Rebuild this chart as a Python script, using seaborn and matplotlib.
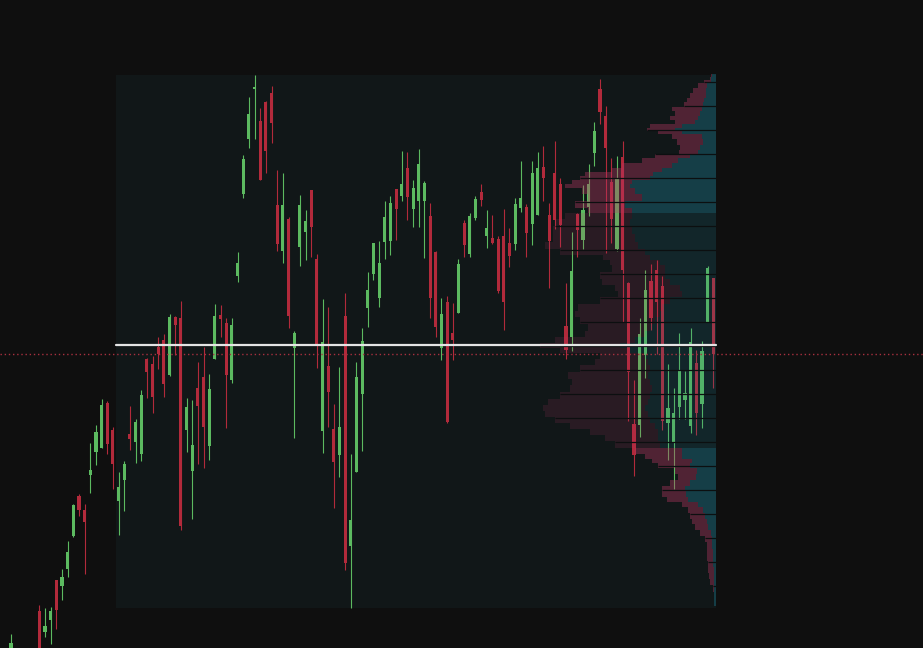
import numpy as np
import pandas as pd
import matplotlib
matplotlib.use("Agg")
import matplotlib.pyplot as plt
from matplotlib.patches import Rectangle
from matplotlib.lines import Line2D
from matplotlib.colors import to_rgba
import seaborn as sns

# ---------------- data ----------------
first_index = -5          # index of the first candle
profile_start = 14        # first candle included in the volume-profile range

opens = [-4, -8, -22, -30, -18,
         37, 16, 28, 68, 62, 79, 112, 152, 138, 173,
         196, 200, 245, 218, 147, 168, 214, 206, 194, 289,
         284, 301, 308, 273, 331, 330, 218, 177, 260, 271,
         202, 289, 333, 325, 268, 372, 454, 509, 559, 527,
         546, 555, 443, 397, 429, 300, 401, 416, 458, 389,
         217, 282, 219, 193, 332, 102, 176, 254, 340, 374,
         350, 406, 407, 459, 452, 480, 439, 447, 447, 432,
         396, 300, 346, 315, 335, 425, 394, 430, 456, 412,
         410, 409, 412, 405, 404, 440, 441, 424, 433, 481,
         433, 475, 464, 322, 311, 434, 408, 441, 495, 559,
         532, 466, 399, 491, 365, 224, 223, 293, 367, 378,
         362, 225, 206, 241, 248, 222, 285, 244, 326, 370]
highs = [14, -2, -12, -15, -5,
         43, 40, 41, 68, 79, 107, 144, 154, 144, 205,
         223, 249, 247, 221, 176, 187, 242, 229, 258, 290,
         292, 311, 314, 334, 332, 347, 250, 248, 286, 301,
         274, 344, 343, 330, 330, 396, 493, 551, 573, 540,
         547, 562, 478, 475, 431, 317, 453, 438, 458, 394,
         349, 341, 244, 281, 355, 194, 286, 320, 376, 405,
         407, 447, 452, 459, 497, 496, 468, 499, 467, 445,
         397, 350, 352, 345, 389, 428, 435, 452, 464, 438,
         433, 412, 439, 420, 450, 487, 444, 487, 496, 502,
         445, 507, 470, 365, 416, 435, 463, 484, 526, 569,
         542, 490, 492, 507, 366, 268, 330, 378, 384, 388,
         372, 284, 260, 315, 277, 320, 298, 307, 382, 370]
lows = [-10, -30, -40, -45, -28,
        -20, 11, 4, 19, 48, 71, 111, 132, 74, 155,
        183, 200, 194, 159, 113, 137, 198, 185, 187, 250,
        235, 279, 251, 272, 293, 118, 196, 129, 184, 180,
        188, 289, 311, 220, 265, 366, 450, 500, 509, 468,
        475, 505, 397, 385, 320, 210, 382, 388, 391, 280,
        195, 221, 140, 171, 78, 40, 176, 197, 321, 368,
        341, 389, 393, 408, 447, 428, 421, 421, 390, 330,
        311, 288, 225, 288, 335, 391, 391, 428, 442, 400,
        404, 355, 318, 381, 398, 436, 391, 403, 433, 447,
        360, 419, 401, 289, 297, 391, 399, 432, 482, 524,
        395, 405, 397, 326, 227, 172, 211, 270, 318, 294,
        218, 188, 159, 229, 229, 215, 213, 220, 326, 260]
closes = [5, -20, -30, -18, -10,
          -10, 22, 37, 38, 71, 96, 143, 138, 126, 178,
          216, 243, 204, 184, 161, 184, 209, 226, 253, 276,
          251, 294, 264, 331, 323, 122, 241, 203, 242, 221,
          259, 332, 329, 273, 323, 385, 489, 534, 561, 468,
          497, 525, 404, 443, 332, 315, 443, 427, 421, 303,
          306, 256, 186, 221, 85, 128, 271, 307, 358, 405,
          385, 431, 445, 439, 464, 451, 460, 484, 465, 350,
          321, 334, 226, 308, 384, 403, 432, 449, 448, 420,
          405, 357, 346, 392, 444, 450, 415, 475, 480, 470,
          407, 428, 423, 298, 377, 418, 438, 464, 517, 536,
          500, 429, 470, 378, 276, 193, 314, 358, 330, 346,
          227, 240, 235, 277, 255, 306, 235, 297, 380, 294]

# volume profile (price level, up volume, down volume)
prof_price = [573, 570, 567, 563, 558, 553, 548, 544, 539, 535, 530, 526, 522, 519,
              516, 512, 506, 501, 496, 492, 488, 483, 478, 474, 470, 466, 463, 457,
              451, 443, 438, 433, 426, 418, 410, 403, 396, 390, 386, 380, 373, 366,
              360, 354, 348, 341, 334, 328, 321, 314, 308, 303, 298, 292, 286, 280,
              273, 266, 260, 253, 246, 240, 234, 228, 222, 216, 210, 204, 197, 191,
              187, 183, 177, 171, 165, 160, 154, 149, 144, 138, 132, 127, 121, 115,
              110, 103, 96, 90, 84, 78, 72, 66, 60, 53, 46]
prof_up = [4, 5, 5, 9, 10, 10, 12, 13, 14, 16, 18, 21, 34, 41,
           34, 14, 13, 16, 18, 26, 38, 44, 54, 63, 66, 84, 86, 81,
           74, 91, 84, 84, 86, 84, 81, 78, 71, 66, 56, 51, 51, 46,
           36, 34, 46, 54, 56, 61, 66, 71, 81, 96, 86, 71, 68, 66,
           68, 66, 64, 66, 68, 71, 68, 66, 61, 58, 58, 56, 34, 34,
           24, 26, 19, 20, 26, 31, 30, 28, 18, 13, 11, 9, 8, 5,
           4, 4, 3, 3, 3, 2, 2, 2, 2, 2, 2]
prof_down = [1, 1, 7, 9, 13, 16, 17, 19, 30, 25, 28, 20, 32, 28,
             24, 30, 26, 20, 19, 35, 36, 50, 50, 68, 70, 60, 65, 53,
             54, 50, 44, 67, 75, 79, 82, 93, 85, 47, 50, 53, 65, 68,
             65, 64, 70, 84, 85, 75, 62, 60, 80, 80, 70, 45, 53, 70,
             80, 78, 82, 90, 100, 102, 103, 95, 85, 68, 53, 45, 47, 37,
             40, 32, 22, 18, 20, 23, 24, 21, 16, 15, 15, 15, 13, 11,
             7, 5, 6, 6, 5, 6, 5, 4, 1, 0, 0]
value_area = (199.5, 436.0)
grid_levels = list(range(62, 567, 24))

# ---------------- style ----------------
FIG_BG = "#0f0f0f"
PANEL_BG = "#111718"
GREEN = "#5cba60"
RED = "#b22a3b"
TEAL = "#1e8096"
MAROON = "#b73764"

sns.set_theme(style="dark", rc={"figure.facecolor": FIG_BG,
                                "axes.facecolor": FIG_BG,
                                "savefig.facecolor": FIG_BG})

W, H = 923, 648
fig = plt.figure(figsize=(W / 100, H / 100), dpi=100)
ax = fig.add_axes([0, 0, 1, 1])
XL = (-6.94, 156.02)
ax.set_xlim(*XL)
ax.set_ylim(0, 648)
ax.axis("off")

df = pd.DataFrame({"i": np.arange(len(opens)) + first_index,
                   "o": opens, "h": highs, "l": lows, "c": closes})
rising = df["c"] >= df["o"]
cols = np.where(rising, GREEN, RED)

# profile range panel
rng = df[df["i"] >= profile_start]
x0, x1 = profile_start - 0.5, df["i"].max() + 0.5
y0, y1 = rng["l"].min(), rng["h"].max()
ax.add_patch(Rectangle((x0, y0), x1 - x0, y1 - y0, fc=PANEL_BG, ec="none", zorder=0))

# candles
ax.vlines(df["i"], df["l"], df["h"], colors=cols, lw=0.8, zorder=2)
body_lo = df[["o", "c"]].min(axis=1)
body_h = (df["c"] - df["o"]).abs().clip(lower=1.0)
ax.bar(df["i"], body_h, bottom=body_lo, width=0.55, color=cols, lw=0, zorder=3)

# ---------------- volume profile ----------------
def px(x):
    return (x - XL[0]) / (XL[1] - XL[0]) * W

PW = 216
right_px = px(x1)
pax = fig.add_axes([(right_px - PW) / W, 0, PW / W, 1], sharey=ax)
pax.set_xlim(PW, 0)
pax.axis("off")

p = np.array(prof_price, dtype=float)
upv = np.array(prof_up, dtype=float)
dnv = np.array(prof_down, dtype=float)
mids = (p[:-1] + p[1:]) / 2
tops = np.concatenate([[p[0] + (p[0] - p[1]) / 2], mids])
bots = np.concatenate([mids, [p[-1] - (p[-2] - p[-1]) / 2]])
cent = (tops + bots) / 2
hgt = tops - bots
in_va = (p >= value_area[0]) & (p <= value_area[1])
alph = np.where(in_va, 0.15, 0.38)
teal_c = [to_rgba(TEAL, a) for a in alph]
mar_c = [to_rgba(MAROON, a) for a in alph]
pax.barh(cent, upv, height=hgt, left=0, color=teal_c, lw=0, antialiased=False)
pax.barh(cent, dnv, height=hgt, left=upv, color=mar_c, lw=0, antialiased=False)

tot = upv + dnv
for lev in grid_levels:
    k = int(np.argmin(np.abs(cent - lev)))
    pax.hlines(lev, 0, tot[k], color="#0c0f10", lw=0.9, zorder=4)

# POC and last price lines (on top of everything)
poc = p[int(np.argmax(tot))]
fig.add_artist(Line2D([x0, x1], [poc, poc], transform=ax.transData,
                      color="#e4e4e4", lw=1.6, zorder=5))
last = df["c"].iloc[-1]
fig.add_artist(Line2D([XL[0], XL[1]], [last, last], transform=ax.transData,
                      color="#a8303f", lw=1.0, ls=(0, (1, 2)), zorder=5))

fig.savefig("out.png", dpi=100, facecolor=FIG_BG)
